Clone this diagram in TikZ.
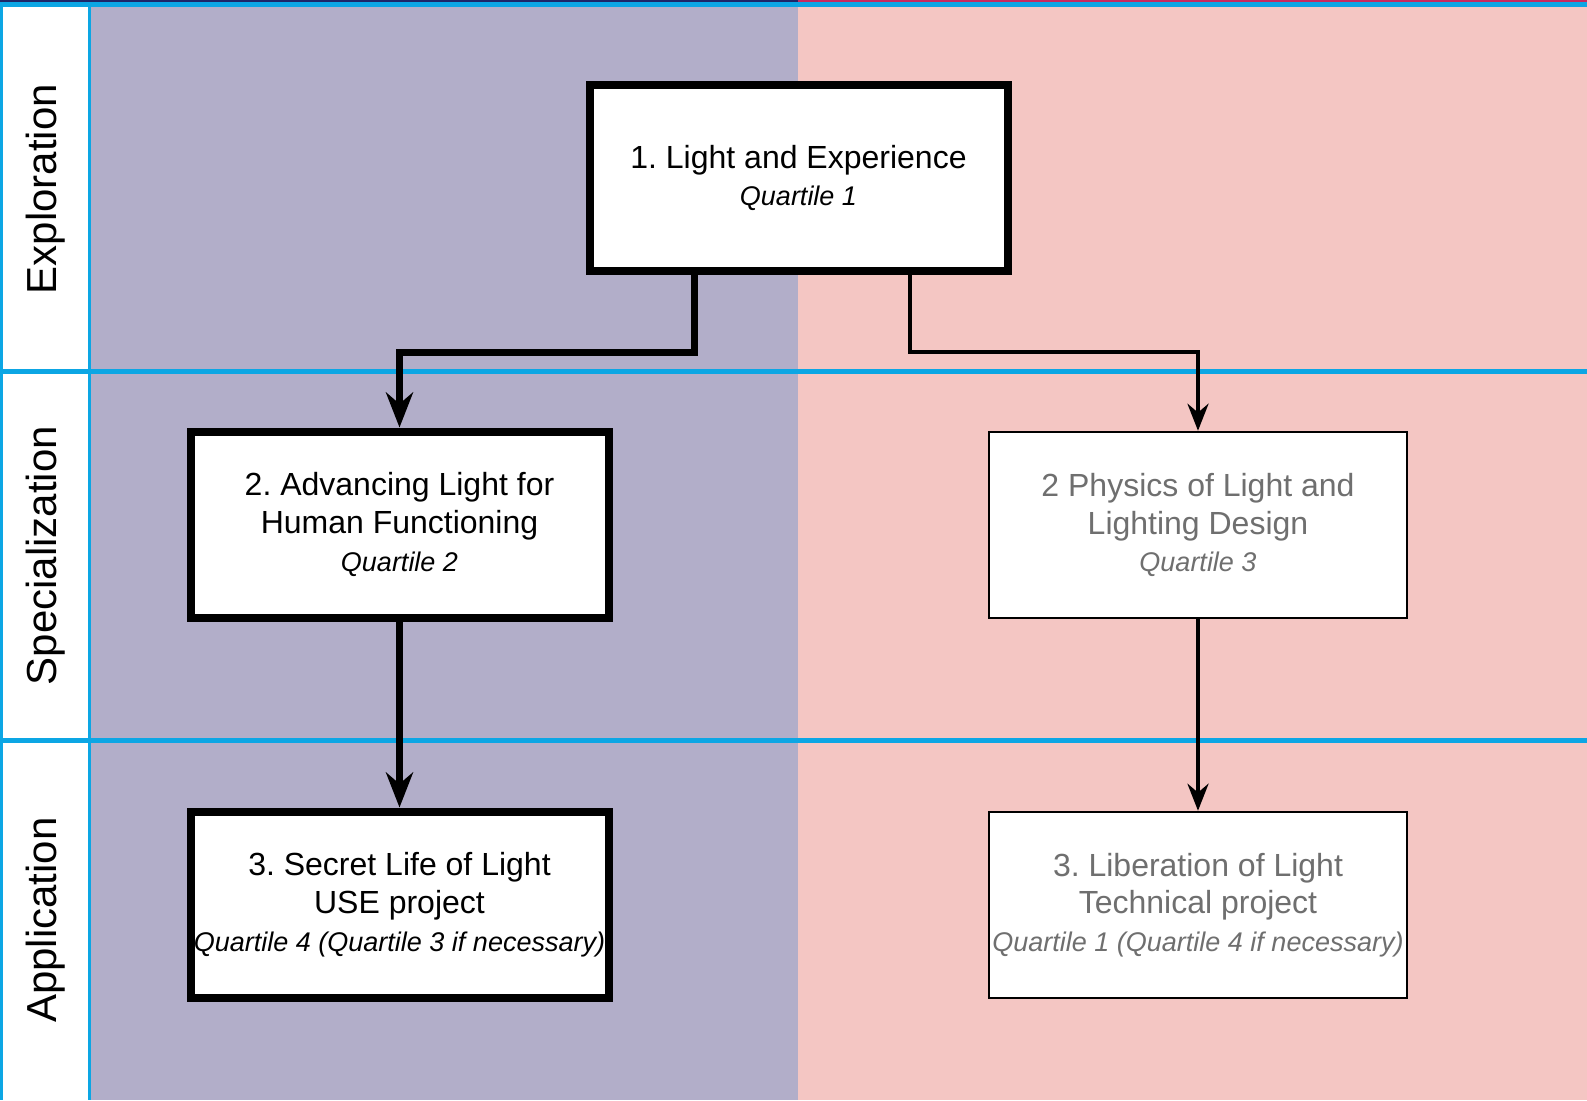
\documentclass[tikz,border=0pt]{standalone}
\usepackage{fontspec}
\setmainfont{Liberation Sans}
\usepackage{tikz}
\usetikzlibrary{arrows.meta}

\definecolor{lanepurple}{HTML}{B2AEC9}
\definecolor{lanepink}{HTML}{F4C6C3}
\definecolor{laneblue}{HTML}{0CA6E4}
\definecolor{topnavy}{HTML}{1E2768}
\definecolor{topred}{HTML}{C82A5F}
\definecolor{fadedtext}{HTML}{6F6F6F}

\newcommand{\qrt}[1]{{\fontsize{13.5}{18.75}\selectfont\itshape #1}}
\frenchspacing

\begin{document}
\begin{tikzpicture}[x=0.5pt, y=-0.5pt]

  \tikzset{course/.style = {shape=rectangle,draw,fill=white,line width=4pt,minimum width=209pt,minimum height=93pt,inner sep=0pt,align=center,font=\fontsize{16}{18.9}\selectfont}}
  \tikzset{option/.style = {course,line width=1.25pt,text=fadedtext}}
  \tikzset{phase/.style = {rotate=90,font=\fontsize{21}{25}\selectfont}}
  \tikzset{edge/.style = {-{Stealth[length=17.5pt,width=13.5pt]},line width=3.5pt}}
  \tikzset{edgethin/.style = {-{Stealth[length=13.5pt,width=10.5pt]},line width=2pt}}
  \useasboundingbox (0,0) rectangle (1587,1100);
  % lanes
  \fill[lanepurple] (0,0) rectangle (798,1100);
  \fill[lanepink] (798,0) rectangle (1587,1100);
  \fill[laneblue] (0,0) rectangle (89,1100);
  \fill[white] (2.5,7) rectangle (87.5,1100);
  \fill[laneblue] (87.5,7) rectangle (90.5,1100);
  \fill[topnavy] (0,0) rectangle (798,2);
  \fill[topred] (798,0) rectangle (1587,2);
  \fill[laneblue] (0,2) rectangle (1587,7);
  \fill[laneblue] (0,368.5) rectangle (1587,373.5);
  \fill[laneblue] (0,737.5) rectangle (1587,742.5);
  % phases
  \node[phase] (explo) at (45.5,189)   {Exploration};
  \node[phase] (spec)  at (45.5,555.5) {Specialization};
  \node[phase] (appl)  at (45.5,920)   {Application};
  % courses
  \node[course] (light)  at (798.5,178)  {1. Light and Experience\\\qrt{Quartile 1}};
  \node[course] (adv)    at (399.5,524.5) {2. Advancing Light for\\Human Functioning\\\qrt{Quartile 2}};
  \node[option] (phys)   at (1198,525)  {2 Physics of Light and\\Lighting Design\\\qrt{Quartile 3}};
  \node[course] (secret) at (399.5,904.5) {3. Secret Life of Light\\USE project\\\qrt{Quartile 4 (Quartile 3 if necessary)}};
  \node[option] (liber)  at (1198,905)  {3. Liberation of Light\\Technical project\\\qrt{Quartile 1 (Quartile 4 if necessary)}};
  %edges
  \draw[edge] ([xshift=-52.25pt]light.south) -- ++(0,77) -| (adv.north);
  \draw[edgethin] ([xshift=55.75pt]light.south) -- ++(0,77) -| (phys.north);
  \draw[edge] (adv) -- (secret);
  \draw[edgethin] (phys) -- (liber);
\end{tikzpicture}
\end{document}
